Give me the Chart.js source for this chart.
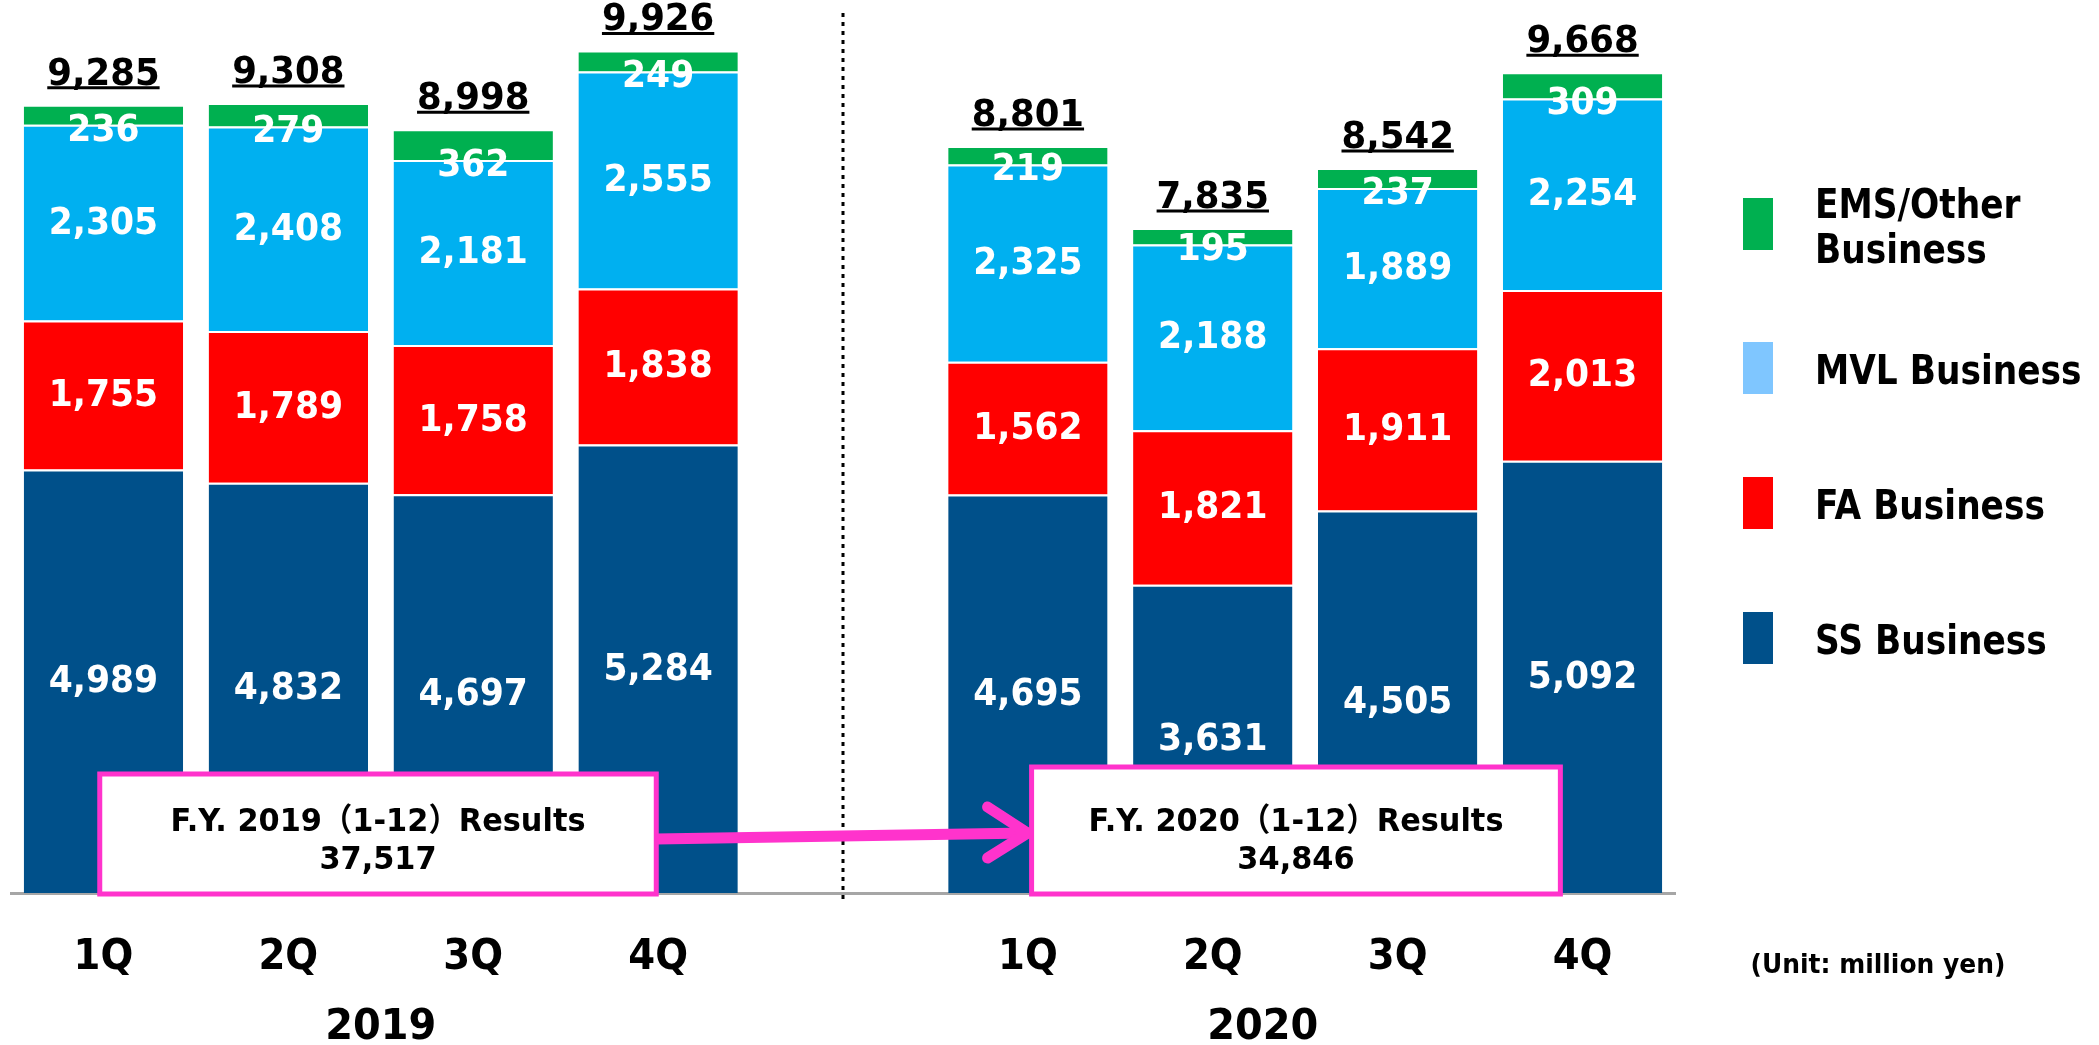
<!DOCTYPE html>
<html>
<head>
<meta charset="utf-8">
<script src="https://cdn.jsdelivr.net/npm/chart.js@4/dist/chart.umd.min.js"></script>
<style>
  html, body { margin: 0; padding: 0; background: #fff; }
  #wrap { width: 2099px; height: 1045px; position: relative; }
</style>
</head>
<body>
<div id="wrap"><canvas id="c" width="2099" height="1045"></canvas></div>
<script>
// Quarterly net sales by business segment (million yen)
const quarters = ['1Q', '2Q', '3Q', '4Q', '', '1Q', '2Q', '3Q', '4Q'];
const years = ['2019', '2020'];
const ssBusiness  = [4989, 4832, 4697, 5284, null, 4695, 3631, 4505, 5092];
const faBusiness  = [1755, 1789, 1758, 1838, null, 1562, 1821, 1911, 2013];
const mvlBusiness = [2305, 2408, 2181, 2555, null, 2325, 2188, 1889, 2254];
const emsBusiness = [236, 279, 362, 249, null, 219, 195, 237, 309];
const quarterTotals = [9285, 9308, 8998, 9926, null, 8801, 7835, 8542, 9668];
const annualTotals = [37517, 34846];
const seriesNames = ['SS Business', 'FA Business', 'MVL Business', 'EMS/Other Business'];

const FONT = '"DejaVu Sans", "Noto Sans CJK JP", sans-serif';
const fmt = v => v.toLocaleString('en-US');

const colors = {
  ss: '#00508A', fa: '#FF0000', mvl: '#00B0F0', ems: '#00B050',
  mvlKey: '#7FC6FF', box: '#FF33CC'
};

const seg = (label, data, color, key) => ({
  label, data, backgroundColor: color, keyColor: key || color,
  borderColor: '#ffffff', borderWidth: { top: 2, bottom: 0, left: 0, right: 0 },
  borderSkipped: false, categoryPercentage: 1, barPercentage: 0.862
});

// text with a slight horizontal condensing
function label(ctx, s, x, y, sx, align) {
  ctx.save();
  ctx.translate(x, y);
  ctx.scale(sx, 1);
  ctx.textAlign = align || 'center';
  ctx.fillText(s, 0, 0);
  ctx.restore();
}

const annotate = {
  id: 'annotate',
  afterDatasetsDraw(chart) {
    const { ctx, chartArea: a, scales: { x, y } } = chart;
    const ds = chart.data.datasets;
    ctx.save();

    // segment values
    ctx.textBaseline = 'middle';
    ctx.fillStyle = '#fff';
    ctx.font = 'bold 38px ' + FONT;
    quarters.forEach((q, i) => {
      if (quarterTotals[i] == null) return;
      let base = 0;
      ds.forEach((d, k) => {
        const v = d.data[i];
        const top = base + v;
        const yy = k === ds.length - 1 ? y.getPixelForValue(base) + 5
                                       : (y.getPixelForValue(base) + y.getPixelForValue(top)) / 2;
        label(ctx, fmt(v), x.getPixelForValue(i), yy + 1, 0.91);
        base = top;
      });
    });

    // quarter totals, underlined
    ctx.fillStyle = '#000';
    ctx.strokeStyle = '#000';
    ctx.font = 'bold 37px ' + FONT;
    ctx.textBaseline = 'alphabetic';
    quarterTotals.forEach((t, i) => {
      if (t == null) return;
      const cx = x.getPixelForValue(i);
      const ty = y.getPixelForValue(t);
      const s = fmt(t);
      const w = ctx.measureText(s).width * 0.96;
      label(ctx, s, cx, ty - 20, 0.96);
      ctx.lineWidth = 3;
      ctx.beginPath();
      ctx.moveTo(cx - w / 2, ty - 17);
      ctx.lineTo(cx + w / 2, ty - 17);
      ctx.stroke();
    });

    // divider between the two years
    const dx = x.getPixelForValue(4);
    ctx.strokeStyle = '#000';
    ctx.lineWidth = 3;
    ctx.setLineDash([4, 5]);
    ctx.beginPath();
    ctx.moveTo(dx, 13);
    ctx.lineTo(dx, a.bottom + 8);
    ctx.stroke();
    ctx.setLineDash([]);

    // full-year result boxes and arrow
    const boxes = [
      { from: -0.02, to: 2.99, top: a.bottom - 119, text: 'F.Y. 2019（1-12）Results', value: annualTotals[0] },
      { from: 5.02, to: 7.88, top: a.bottom - 126, text: 'F.Y. 2020（1-12）Results', value: annualTotals[1] }
    ];
    const pos = boxes.map(b => ({ l: x.getPixelForValue(b.from), r: x.getPixelForValue(b.to), t: b.top, b: a.bottom + 1 }));

    ctx.strokeStyle = colors.box;
    ctx.lineCap = 'round';
    ctx.lineJoin = 'round';
    ctx.lineWidth = 11;
    const y1 = a.bottom - 54, y2 = a.bottom - 60;
    ctx.beginPath();
    ctx.moveTo(pos[0].r, y1);
    ctx.lineTo(pos[1].l - 4, y2);
    ctx.stroke();
    ctx.beginPath();
    ctx.moveTo(pos[1].l - 44, y2 - 26);
    ctx.lineTo(pos[1].l - 4, y2);
    ctx.lineTo(pos[1].l - 44, y2 + 25);
    ctx.stroke();

    boxes.forEach((b, k) => {
      const p = pos[k];
      ctx.fillStyle = '#fff';
      ctx.fillRect(p.l, p.t, p.r - p.l, p.b - p.t);
      ctx.strokeStyle = colors.box;
      ctx.lineWidth = 5;
      ctx.lineJoin = 'miter';
      ctx.strokeRect(p.l, p.t, p.r - p.l, p.b - p.t);
      ctx.fillStyle = '#000';
      ctx.textBaseline = 'middle';
      ctx.font = 'bold 32px ' + FONT;
      const cx = (p.l + p.r) / 2;
      const sx = 415 / ctx.measureText(b.text).width;
      label(ctx, b.text, cx, a.bottom - 70, sx);
      label(ctx, fmt(b.value), cx, a.bottom - 32, sx);
    });

    // category and year labels
    ctx.fillStyle = '#000';
    ctx.textBaseline = 'middle';
    ctx.font = 'bold 42px ' + FONT;
    quarters.forEach((q, i) => { if (q) label(ctx, q, x.getPixelForValue(i), 958, 0.92); });
    label(ctx, years[0], x.getPixelForValue(1.5), 1028, 0.95);
    label(ctx, years[1], x.getPixelForValue(6.27), 1028, 0.95);

    ctx.font = 'bold 26px ' + FONT;
    label(ctx, '(Unit: million yen)', 1878, 966, 0.96);

    // legend
    const keyRows = [
      { k: 3, y: 224, lines: ['EMS/Other', 'Business'] },
      { k: 2, y: 368, lines: ['MVL Business'] },
      { k: 1, y: 503, lines: ['FA Business'] },
      { k: 0, y: 638, lines: ['SS Business'] }
    ];
    ctx.font = 'bold 40px ' + FONT;
    keyRows.forEach(r => {
      ctx.fillStyle = ds[r.k].keyColor;
      ctx.fillRect(1743, r.y - 26, 30, 52);
      ctx.fillStyle = '#000';
      const n = r.lines.length;
      r.lines.forEach((ln, j) => label(ctx, ln, 1815, r.y + 6 + (j - (n - 1) / 2) * 45, 0.86, 'left'));
    });
    ctx.restore();
  }
};

new Chart(document.getElementById('c'), {
  type: 'bar',
  data: {
    labels: quarters,
    datasets: [
      seg(seriesNames[0], ssBusiness, colors.ss),
      seg(seriesNames[1], faBusiness, colors.fa),
      seg(seriesNames[2], mvlBusiness, colors.mvl, colors.mvlKey),
      seg(seriesNames[3], emsBusiness, colors.ems)
    ]
  },
  options: {
    responsive: false,
    animation: false,
    layout: { padding: { left: 11, right: 424, top: 0, bottom: 152 } },
    plugins: { legend: { display: false }, tooltip: { enabled: false } },
    scales: {
      x: {
        stacked: true,
        grid: { display: false, drawTicks: false, tickLength: 0 },
        border: { display: true, color: '#A6A6A6', width: 3 },
        ticks: { display: false, padding: 0 }
      },
      y: {
        stacked: true, display: false, min: 0, max: 10520
      }
    }
  },
  plugins: [annotate]
});
</script>
</body>
</html>
